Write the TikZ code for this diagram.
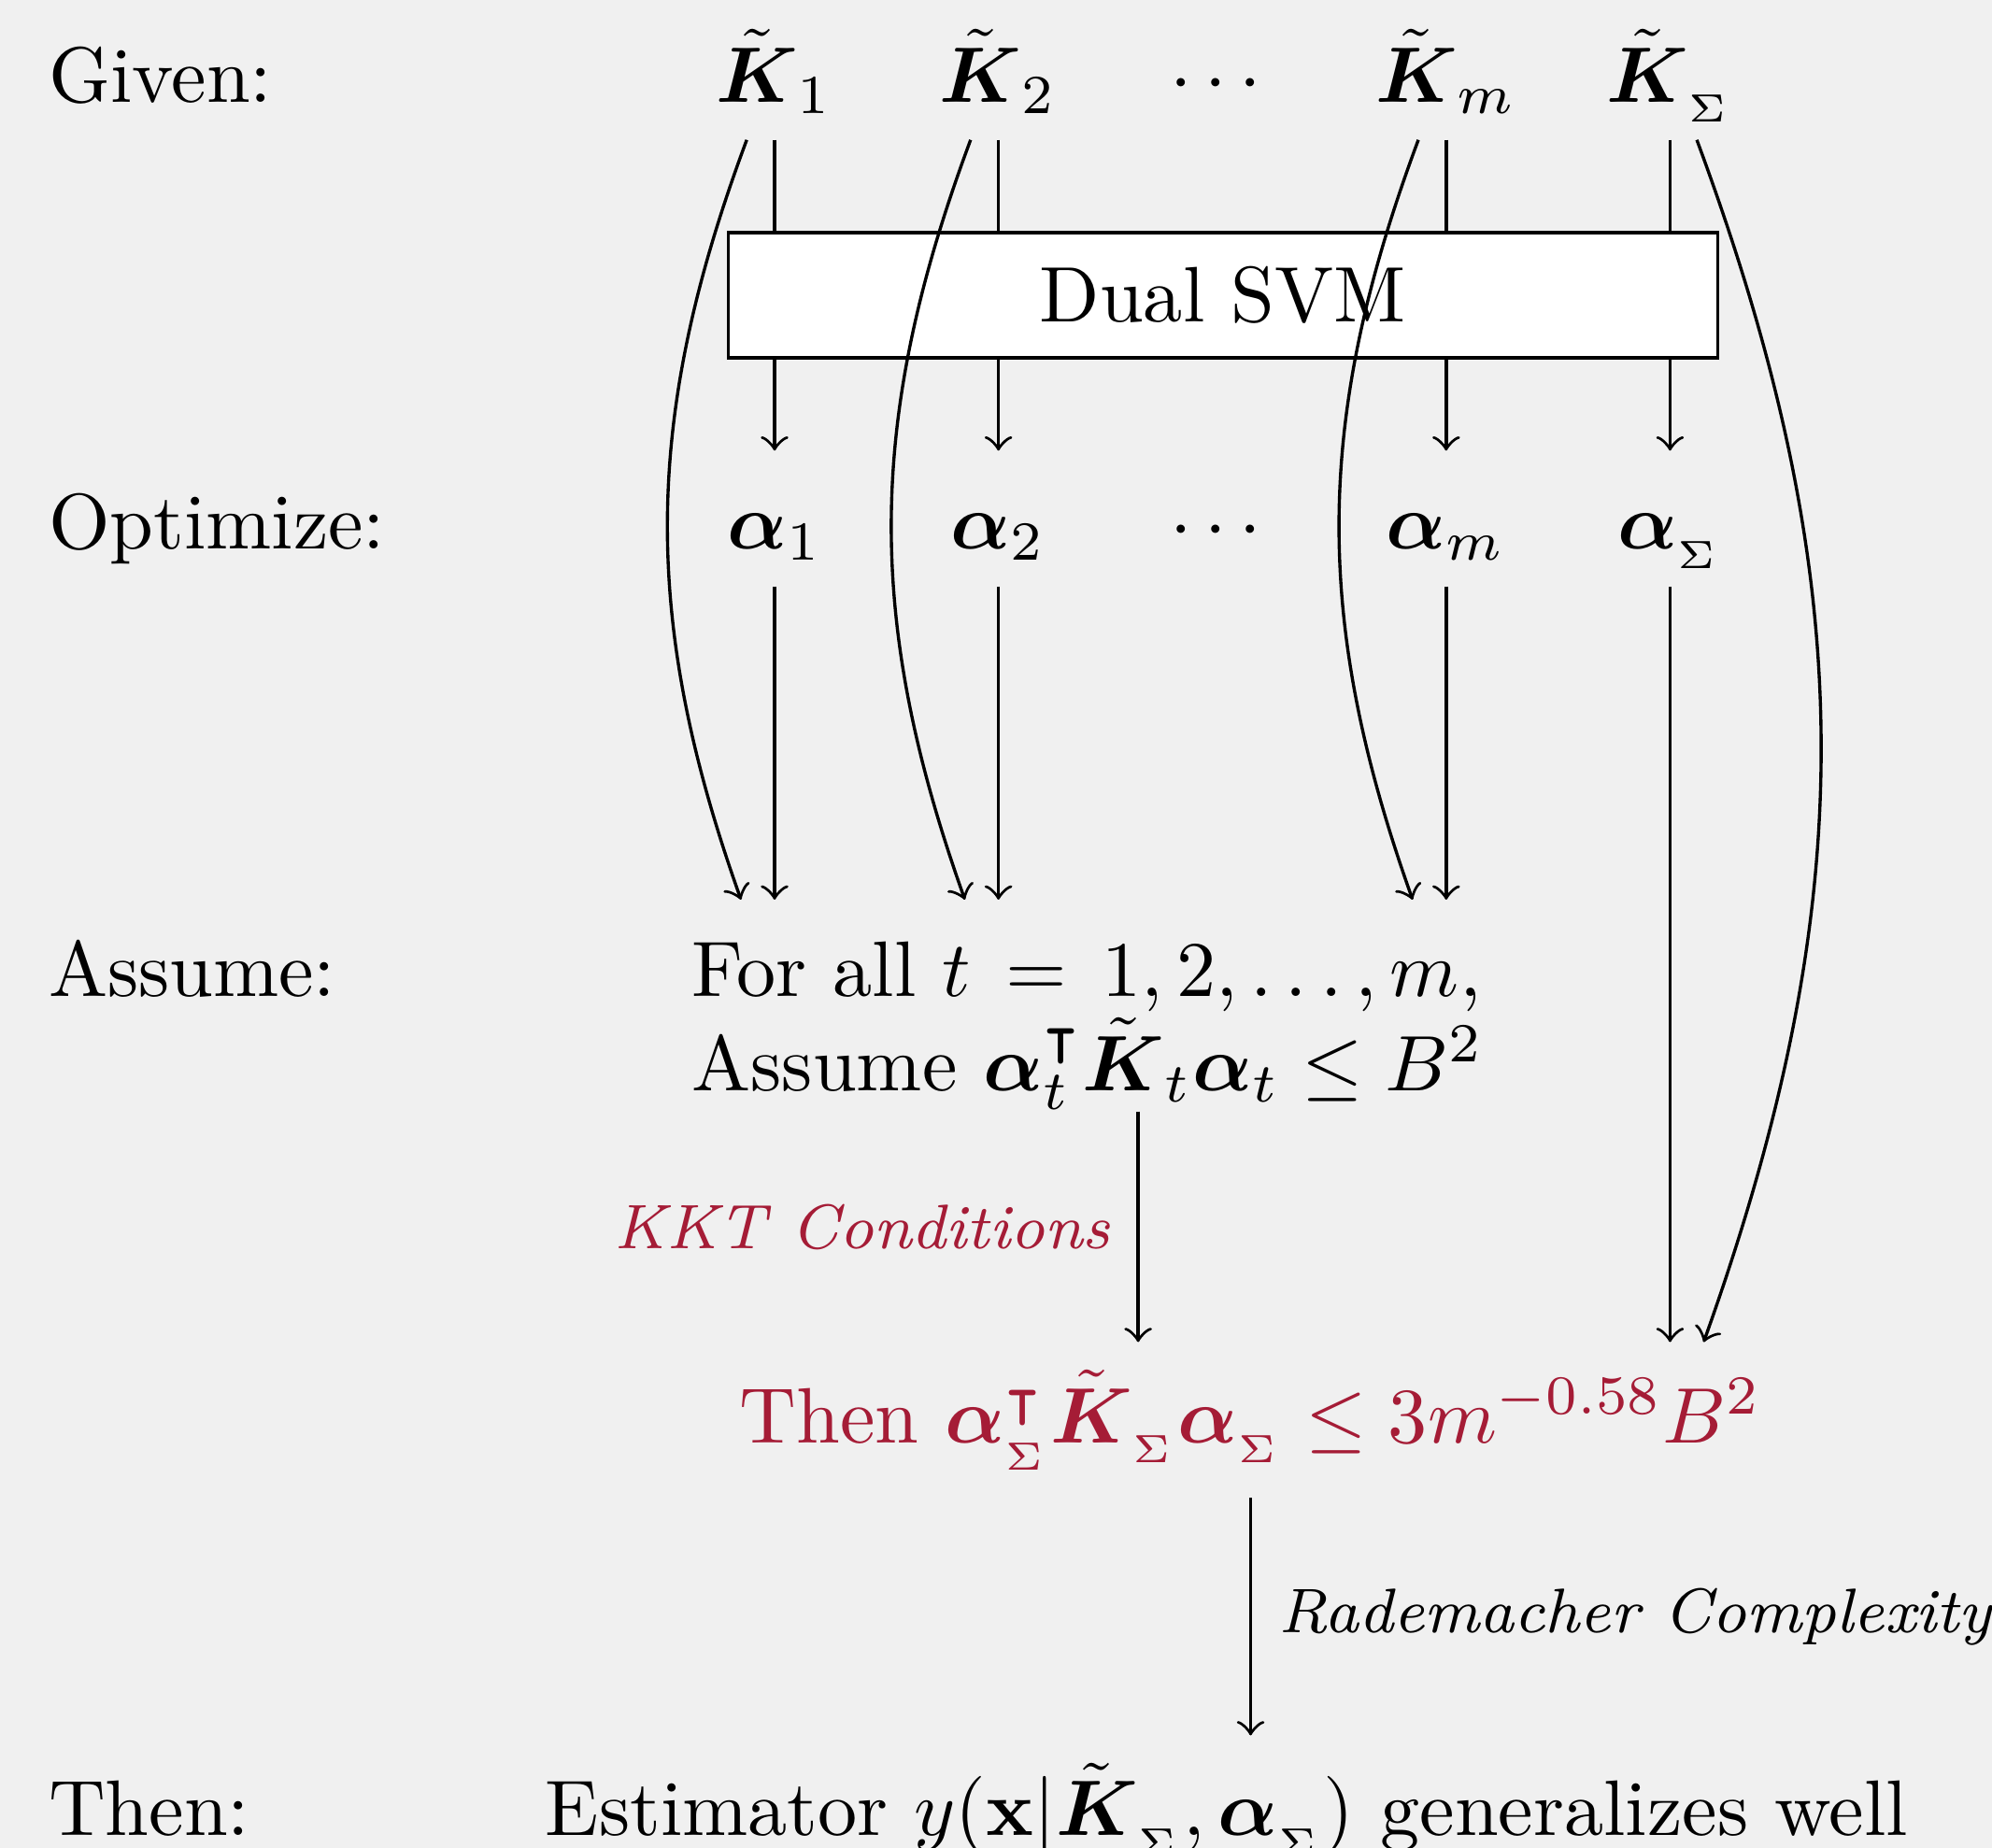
\documentclass[tikz,border=0pt]{standalone}
\usepackage{amsmath, amssymb}
\usepackage{xcolor}
\usepackage{tikz}
\definecolor{bgGray}{RGB}{240,240,240}
\definecolor{resultRed}{RGB}{165,28,54}
\tikzset{
    rowlabel/.style={anchor=base west, inner sep=0pt},
    var/.style={anchor=base, text height=8.9pt, text depth=1.3pt},
    svmbox/.style={draw, fill=white, minimum width=4.42cm, minimum height=0.56cm},
    result/.style={anchor=base west, text=resultRed},
    reason/.style={font=\footnotesize\itshape}
}

\begin{document}
\begin{tikzpicture}
        % ---------------- page ----------------
        \fill[bgGray] (0,0) rectangle (8.898,-8.255);
        \useasboundingbox (0,0) rectangle (8.898,-8.255);

        % Row labels on the left
        \node[rowlabel] (given) at (0.21,-0.455) {Given:};
        \node[rowlabel] (optimize) at (0.21,-2.450) {Optimize:};
        \node[rowlabel] (assumeLabel) at (0.21,-4.449) {Assume:};
        \node[rowlabel] (thenLabel) at (0.21,-8.201) {Then:};

        % Kernels and their dual variables, one column each
        \foreach \i/\s in {1/1,2/2,4/m,5/{_\Sigma}} {
            \node[var] (k\i) at (2.46+\i,-0.455) {$\tilde{\boldsymbol{K}}_{\s}$};
            \node[var] (a\i) at (2.46+\i,-2.450) {$\boldsymbol{\alpha}_{\s}$};
        }
        \node[var] (kDots) at (5.46,-0.455) {$\cdots$};
        \node[var] (aDots) at (5.46,-2.450) {$\cdots$};

        \node[svmbox] (svm) at (5.462,-1.319) {Dual SVM};

        % Statements
        \node[rowlabel] (forall) at (3.084,-4.449) {For all $t \,=\, 1, 2, \ldots, m$,};
        \node[rowlabel] (assume) at (3.084,-4.871) {Assume $\boldsymbol{\alpha}_t^\intercal \tilde{\boldsymbol{K}}_t \boldsymbol{\alpha}_t \leq B^2$};
        \node[result] (then) at (3.180,-6.444) {Then $\boldsymbol{\alpha}_{_\Sigma}^\intercal \tilde{\boldsymbol{K}}_{_\Sigma} \boldsymbol{\alpha}_{_\Sigma} \leq 3m^{-0.58}B^2$};
        \node[anchor=base west] (est) at (2.312,-8.201) {Estimator $y(\mathbf{x}|\tilde{\boldsymbol{K}}_{_\Sigma}, \boldsymbol{\alpha}_{_\Sigma})$ generalizes well};

        % Arrow ends above the statements
        \foreach \i in {1,2,4} {
            \coordinate (t\i) at (2.46+\i,-4.019);
        }
        \coordinate (sigmaEnd) at (a5 |- then.north);
        \coordinate (kktStart) at ([xshift=2cm]assume.south west);

        % Through the dual SVM
        \foreach \i in {1,2,4,5} {
            \draw (k\i) -- (k\i |- svm.north);
            \draw[->] (svm.south -| a\i) -- (a\i);
        }

        % Down to the assumption / result
        \foreach \i in {1,2,4} {
            \draw[->] (a\i) -- (t\i);
            \draw[->] (k\i) to[bend right=20] ([xshift=-1.5mm]t\i);
        }
        \draw[->] (a5) -- (sigmaEnd);
        \draw[->] (k5) to[bend left=20] ([xshift=1.5mm]sigmaEnd);

        \draw[->] (kktStart) -- (kktStart |- then.north)
            node[reason, midway, left, text=resultRed] {KKT Conditions};
        \draw[->] (then) -- (then.south |- est.north)
            node[reason, midway, right] {Rademacher Complexity};
    \end{tikzpicture}
\end{document}
